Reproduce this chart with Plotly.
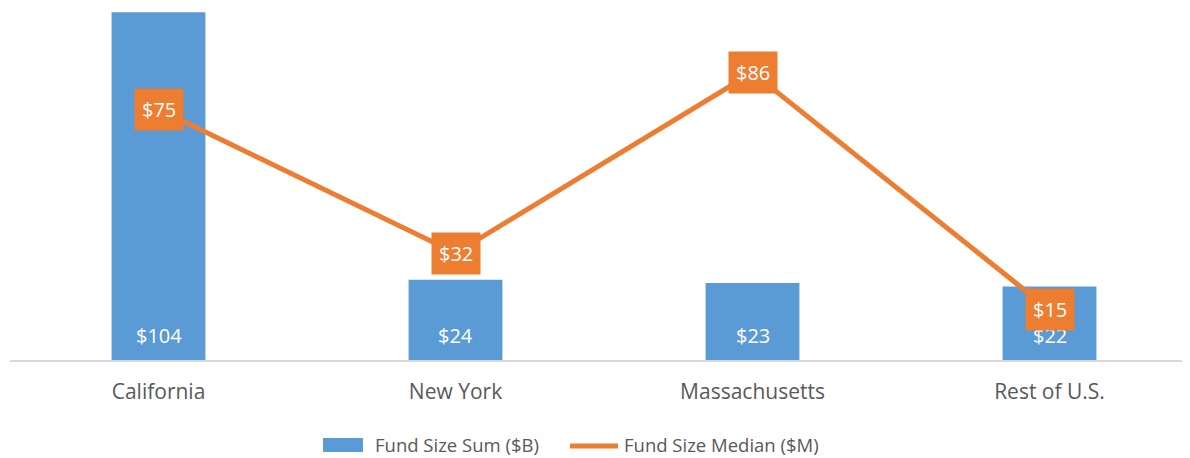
import plotly.graph_objects as go

regioes = ["California", "New York", "Massachusetts", "Rest of U.S."]
soma_fundos = [104, 24, 23, 22]      # $B
mediana_fundos = [75, 32, 86, 15]    # $M

azul = "#5B9BD5"
laranja = "#ED7D31"
cinza = "#595959"
fonte = "'Open Sans', 'Noto Sans', sans-serif"

fig = go.Figure()
fig.add_trace(go.Bar(
    x=regioes, y=soma_fundos, name="Fund Size Sum ($B)",
    marker=dict(color=azul, line=dict(width=0)), width=0.316,
))
fig.add_trace(go.Scatter(
    x=regioes, y=mediana_fundos, name="Fund Size Median ($M)",
    mode="lines", line=dict(color=laranja, width=5),
    yaxis="y2",
))

# rótulos das barras (embaixo, dentro da barra)
for r, v in zip(regioes, soma_fundos):
    fig.add_annotation(
        x=r, y=0, xref="x", yref="y", text="$" + str(v), showarrow=False,
        yanchor="middle", yshift=25, font=dict(color="white", size=20, family=fonte),
    )

# caixas laranja com os rótulos da mediana
for r, v in zip(regioes, mediana_fundos):
    fig.add_annotation(
        x=r, y=v, xref="x", yref="y2", text="$" + str(v), showarrow=False,
        bgcolor=laranja, borderpad=7, font=dict(color="white", size=20, family=fonte),
    )

# legenda desenhada à mão (símbolo de barra largo como no Excel)
fig.add_shape(type="rect", xref="paper", yref="paper", x0=0.2635, x1=0.2971,
              y0=-0.2621, y1=-0.2222, fillcolor=azul, line=dict(width=0))
fig.add_shape(type="line", xref="paper", yref="paper", x0=0.4714, x1=0.5118,
              y0=-0.245, y1=-0.245, line=dict(color=laranja, width=5))
fig.add_annotation(x=0.3056, y=-0.242, xref="paper", yref="paper", text="Fund Size Sum ($B)",
                   showarrow=False, xanchor="left", yanchor="middle",
                   font=dict(size=18.5, color=cinza, family=fonte))
fig.add_annotation(x=0.5152, y=-0.242, xref="paper", yref="paper", text="Fund Size Median ($M)",
                   showarrow=False, xanchor="left", yanchor="middle",
                   font=dict(size=18.5, color=cinza, family=fonte))

fig.update_layout(
    width=1190, height=458,
    margin=dict(l=2, r=0, t=1, b=106),
    paper_bgcolor="white", plot_bgcolor="white",
    font=dict(family=fonte, color=cinza, size=18),
    xaxis=dict(range=[-0.5, 3.5], showline=True, linecolor="#D9D9D9", linewidth=2,
               ticks="", ticklabelstandoff=12, tickfont=dict(size=21, color=cinza)),
    yaxis=dict(range=[0, 105], visible=False, showgrid=False),
    yaxis2=dict(range=[0, 105], visible=False, overlaying="y", showgrid=False),
    showlegend=False,
)

fig.write_html("out.html")
